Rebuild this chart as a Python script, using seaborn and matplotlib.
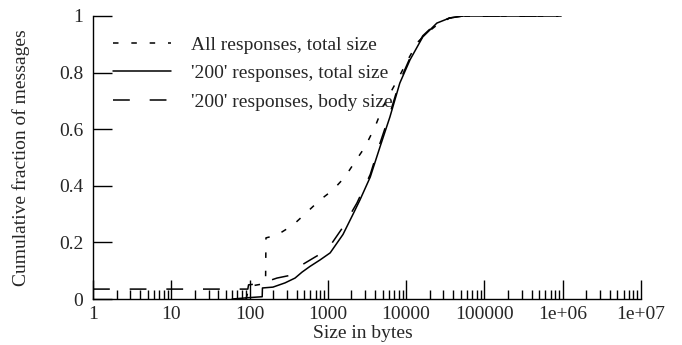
import numpy as np
import pandas as pd
import matplotlib
matplotlib.use("Agg")
import matplotlib.pyplot as plt
import seaborn as sns

# CDF of message sizes
all_sizes = [90, 100, 160, 162, 224, 358, 541, 794, 1160, 1650, 2350, 2980, 4000,
             5040, 6600, 8300, 10500, 14100, 19000, 24700, 36000, 53000, 1.3e6]
all_frac = [0.0, 0.045, 0.055, 0.216, 0.226, 0.261, 0.307, 0.35, 0.385, 0.431, 0.495,
            0.537, 0.608, 0.678, 0.739, 0.79, 0.845, 0.908, 0.943, 0.968, 0.993, 1.0, 1.0]

ok_total_sizes = [60, 100, 145, 146, 199, 284, 381, 468, 590, 794, 1070, 1560, 2100,
                  2570, 3480, 4630, 6200, 8300, 11200, 16300, 24700, 36000, 53000, 870000]
ok_total_frac = [0.0, 0.005, 0.008, 0.039, 0.042, 0.057, 0.074, 0.095, 0.115, 0.138,
                 0.163, 0.228, 0.3, 0.35, 0.431, 0.537, 0.643, 0.763, 0.845, 0.926,
                 0.975, 0.993, 1.0, 1.0]

ok_body_sizes = [1, 95, 97, 140, 224, 350, 403, 684, 980, 1560, 2350, 3480, 4630, 6200,
                 8300, 11200, 16300, 24700, 36000, 53000, 870000]
ok_body_frac = [0.035, 0.035, 0.05, 0.055, 0.074, 0.085, 0.11, 0.148, 0.173, 0.254,
                0.339, 0.44, 0.55, 0.655, 0.77, 0.852, 0.93, 0.977, 0.993, 1.0, 1.0]

labels = ["All responses, total size",
          "'200' responses, total size",
          "'200' responses, body size"]
x_ticks = [1, 10, 100, 1000, 10000, 100000, 1e6, 1e7]
x_tick_labels = ["1", "10", "100", "1000", "10000", "100000", "1e+06", "1e+07"]
y_ticks = [0, 0.2, 0.4, 0.6, 0.8, 1]
y_tick_labels = ["0", "0.2", "0.4", "0.6", "0.8", "1"]

sns.set_style("white")
plt.rcParams['font.family'] = ['Liberation Serif', 'DejaVu Serif']
plt.rcParams['font.size'] = 14

frames = []
for name, xs, ys in zip(labels, [all_sizes, ok_total_sizes, ok_body_sizes],
                        [all_frac, ok_total_frac, ok_body_frac]):
    frames.append(pd.DataFrame({"size": xs, "frac": ys, "series": name}))
df = pd.concat(frames, ignore_index=True)

fig = plt.figure(figsize=(6.82, 3.45), dpi=100)
ax = fig.add_axes([93 / 682, 1 - 299 / 345, 548 / 682, 283 / 345])
ax.set_xscale("log")

dash_map = {labels[0]: (3.6, 8.4), labels[1]: "", labels[2]: (11, 13)}
sns.lineplot(data=df, x="size", y="frac", style="series", dashes=dash_map,
             color="black", linewidth=1.1, estimator=None, sort=False, ax=ax)

ax.set_xlim(1, 1e7)
ax.set_ylim(0, 1)
ax.set_xticks(x_ticks)
ax.set_xticklabels(x_tick_labels)
ax.set_yticks(y_ticks)
ax.set_yticklabels(y_tick_labels)
ax.xaxis.set_minor_locator(matplotlib.ticker.LogLocator(base=10, subs=np.arange(2, 10), numticks=20))
ax.xaxis.set_minor_formatter(matplotlib.ticker.NullFormatter())

ax.tick_params(axis="both", which="both", bottom=True, left=True, top=False, right=False)
ax.tick_params(axis="both", which="major", direction="in", length=14, width=1.0,
               color="black", labelsize=14)
ax.tick_params(axis="x", which="major", pad=5)
ax.tick_params(axis="y", which="major", pad=7)
ax.tick_params(axis="x", which="minor", direction="in", length=6.5, width=1.0, color="black")
ax.tick_params(axis="y", which="minor", left=False)

for side in ["top", "right"]:
    ax.spines[side].set_visible(False)
for side in ["left", "bottom"]:
    ax.spines[side].set_color("black")
    ax.spines[side].set_linewidth(1.0)

ax.set_xlabel("Size in bytes", fontsize=14)
ax.set_ylabel("Cumulative fraction of messages", fontsize=14)
ax.xaxis.set_label_coords(0.493, -0.093)
ax.yaxis.set_label_coords(-0.115, 0.5)

handles, lbls = ax.get_legend_handles_labels()
ax.legend(handles, lbls, loc="upper left", bbox_to_anchor=(113 / 682, 1 - 36 / 345),
          bbox_transform=fig.transFigure, frameon=False, borderpad=0, borderaxespad=0,
          handlelength=3.0, handletextpad=1.0, labelspacing=0.56, fontsize=14)

fig.savefig("out.png", dpi=100)
